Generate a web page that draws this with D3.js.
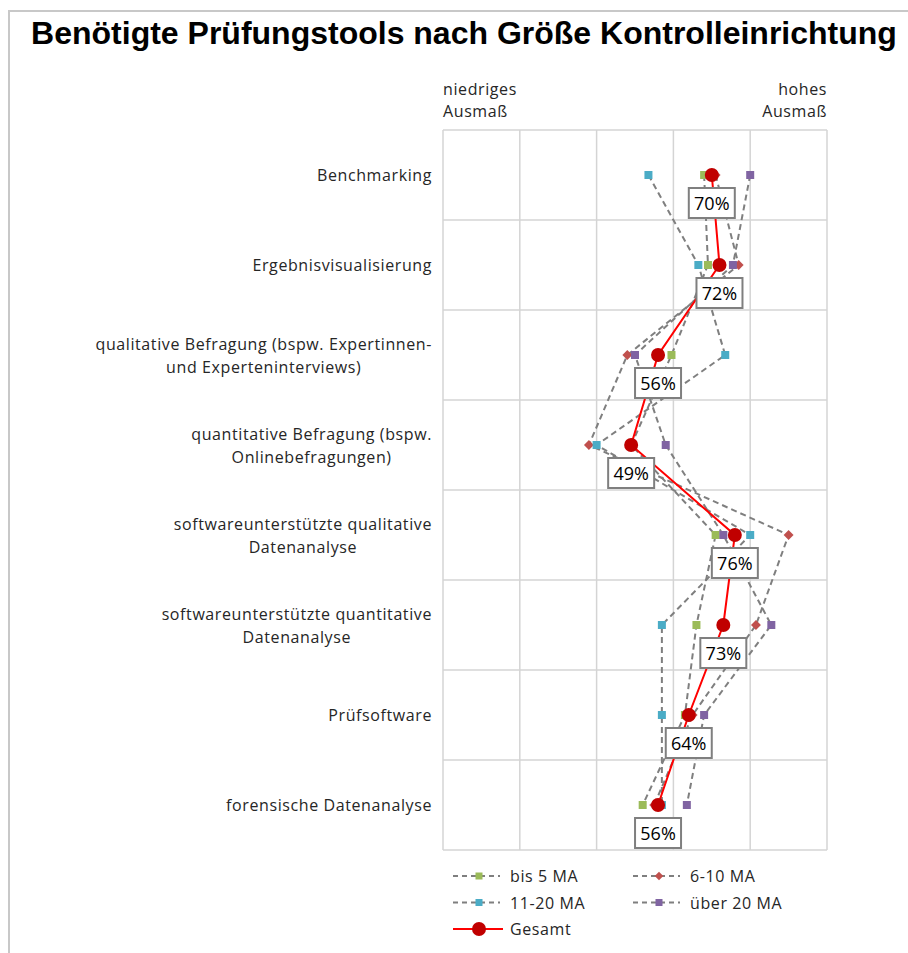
<!DOCTYPE html>
<html>
<head>
<meta charset="utf-8">
<style>
html, body { margin: 0; padding: 0; background: #fff; }
svg { display: block; }
.title { font-family: "Liberation Sans", Arial, sans-serif; font-weight: bold; font-size: 32px; fill: #000; }
.lbl { font-family: "Open Sans", sans-serif; font-size: 16px; letter-spacing: 0.6px; fill: #262626; }
.grid line { stroke: #d4d4d4; stroke-width: 1.5; }
.series { fill: none; stroke: #7f7f7f; stroke-width: 2; stroke-dasharray: 6,4; }
.total { fill: none; stroke: #ff0000; stroke-width: 2; }
.box rect { fill: #fff; stroke: #7f7f7f; stroke-width: 2; }
.box text { font-family: "Open Sans", sans-serif; font-size: 18px; fill: #000; text-anchor: middle; }
</style>
</head>
<body>
<script src="https://cdnjs.cloudflare.com/ajax/libs/d3/7.8.5/d3.min.js"></script>
<script>
var width = 908
var height = 953

// categories, top to bottom
var categories = [
    ['Benchmarking'],
    ['Ergebnisvisualisierung'],
    ['qualitative Befragung (bspw. Expertinnen-', 'und Experteninterviews)'],
    ['quantitative Befragung (bspw.', 'Onlinebefragungen)'],
    ['softwareunterstützte qualitative', 'Datenanalyse'],
    ['softwareunterstützte quantitative', 'Datenanalyse'],
    ['Prüfsoftware'],
    ['forensische Datenanalyse']
]

// values in %
var bis5 = [68, 69, 59.5, 49, 71, 66, 63, 52]
var ma6to10 = [71, 77, 48, 38, 90, 81.5, 65, 55]
var ma11to20 = [53.5, 66.5, 73.5, 40, 80, 57, 57, 57]
var ueber20 = [80, 75.5, 50, 58, 73, 85.5, 68, 63.5]
var gesamt = [70, 72, 56, 49, 76, 73, 64, 56]

var seriesNames = ['bis 5 MA', '6-10 MA', '11-20 MA', 'über 20 MA', 'Gesamt']
var xTicks = [0, 20, 40, 60, 80, 100]

var series = [
    { name: seriesNames[0], values: bis5, color: '#9bbb59', shape: 'square' },
    { name: seriesNames[1], values: ma6to10, color: '#c0504d', shape: 'diamond' },
    { name: seriesNames[2], values: ma11to20, color: '#4bacc6', shape: 'square' },
    { name: seriesNames[3], values: ueber20, color: '#8064a2', shape: 'square' }
]

var svg = d3.select('body').append('svg')
    .attr('width', width)
    .attr('height', height)

// frame
svg.append('path')
    .attr('d', 'M9,' + height + 'V11H' + width)
    .attr('fill', 'none')
    .attr('stroke', '#c8c8c8')
    .attr('stroke-width', 2)

svg.append('text')
    .attr('class', 'title')
    .attr('x', 464)
    .attr('y', 44)
    .attr('text-anchor', 'middle')
    .text('Benötigte Prüfungstools nach Größe Kontrolleinrichtung')

var x = d3.scaleLinear().domain([0, 100]).range([443, 827])
var y = d3.scaleBand().domain(d3.range(categories.length)).range([130, 850])
var cy = function (i) { return y(i) + y.bandwidth() / 2 }

// grid
var grid = svg.append('g').attr('class', 'grid')
grid.selectAll('.v').data(xTicks).enter().append('line')
    .attr('x1', function (d) { return x(d) }).attr('x2', function (d) { return x(d) })
    .attr('y1', 130).attr('y2', 850)
grid.selectAll('.h').data(d3.range(categories.length + 1)).enter().append('line')
    .attr('x1', x(0)).attr('x2', x(100))
    .attr('y1', function (d) { return 130 + d * y.bandwidth() })
    .attr('y2', function (d) { return 130 + d * y.bandwidth() })

// scale end labels
var ends = [
    { lines: ['niedriges', 'Ausmaß'], at: x(0), anchor: 'start' },
    { lines: ['hohes', 'Ausmaß'], at: x(100), anchor: 'end' }
]
ends.forEach(function (e) {
    e.lines.forEach(function (l, k) {
        svg.append('text').attr('class', 'lbl')
            .attr('x', e.at).attr('y', 95 + k * 22)
            .attr('text-anchor', e.anchor)
            .text(l)
    })
})

// category labels, block right-aligned, lines centred
categories.forEach(function (lines, i) {
    var g = svg.append('g')
    var texts = lines.map(function (l, k) {
        return g.append('text').attr('class', 'lbl')
            .attr('text-anchor', 'middle')
            .attr('y', cy(i) + 6 + (k - (lines.length - 1) / 2) * 23)
            .text(l)
    })
    var w = d3.max(texts, function (t) { return t.node().getComputedTextLength() })
    texts.forEach(function (t) { t.attr('x', 432 - w / 2) })
})

var line = d3.line()
    .x(function (d) { return x(d) })
    .y(function (d, i) { return cy(i) })

function marker(sel, s, size) {
    var r = sel.append('rect')
        .attr('x', -size / 2).attr('y', -size / 2)
        .attr('width', size).attr('height', size)
        .attr('fill', s.color)
    if (s.shape === 'diamond') r.attr('transform', 'rotate(45)')
}

series.forEach(function (s) {
    svg.append('path').attr('class', 'series').attr('d', line(s.values))
    s.values.forEach(function (v, i) {
        var g = svg.append('g').attr('transform', 'translate(' + x(v) + ',' + cy(i) + ')')
        marker(g, s, s.shape === 'diamond' ? 7 : 8)
    })
})

svg.append('path').attr('class', 'total').attr('d', line(gesamt))
svg.selectAll('.dot').data(gesamt).enter().append('circle')
    .attr('cx', function (d) { return x(d) })
    .attr('cy', function (d, i) { return cy(i) })
    .attr('r', 7)
    .attr('fill', '#c00000')

var boxes = svg.selectAll('.box').data(gesamt).enter().append('g')
    .attr('class', 'box')
    .attr('transform', function (d, i) { return 'translate(' + x(d) + ',' + (cy(i) + 28) + ')' })
boxes.append('rect').attr('x', -23).attr('y', -15).attr('width', 46).attr('height', 30)
boxes.append('text').attr('y', 6.5).text(function (d) { return Math.round(d) + '%' })

// legend
var legendItems = [
    { s: series[0], col: 0, row: 0 },
    { s: series[1], col: 1, row: 0 },
    { s: series[2], col: 0, row: 1 },
    { s: series[3], col: 1, row: 1 },
    { s: { name: seriesNames[4], total: true }, col: 0, row: 2 }
]
legendItems.forEach(function (it) {
    var g = svg.append('g').attr('transform', 'translate(' + (453 + it.col * 180) + ',' + (876 + it.row * 26.5) + ')')
    if (it.s.total) {
        g.append('line').attr('x1', 0).attr('x2', 50).attr('stroke', '#ff0000').attr('stroke-width', 2)
        g.append('circle').attr('cx', 26).attr('r', 7).attr('fill', '#c00000')
    } else {
        g.append('line').attr('x1', 0).attr('x2', 47)
            .attr('stroke', '#7f7f7f').attr('stroke-width', 2).attr('stroke-dasharray', '5,4')
        var m = g.append('g').attr('transform', 'translate(26,0)')
        marker(m, it.s, it.s.shape === 'diamond' ? 6 : 7)
    }
    g.append('text').attr('class', 'lbl').attr('x', 57).attr('y', 6).text(it.s.name)
})
</script>
</body>
</html>
